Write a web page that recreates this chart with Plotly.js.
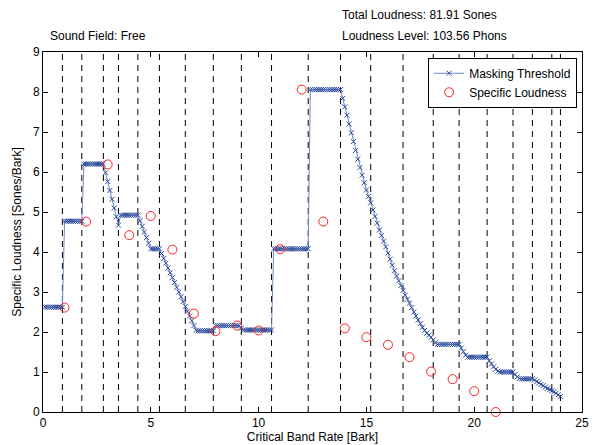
<!DOCTYPE html>
<html><head><meta charset="utf-8">
<script src="https://cdn.plot.ly/plotly-3.0.1.min.js"></script>
<style>html,body{margin:0;padding:0;background:#fff}#chart{width:593px;height:445px}</style>
</head><body><div id="chart"></div>
<script>
// Critical band edges (dashed lines), Bark
const bandEdges = [0.9, 1.8, 2.8, 3.5, 4.4, 5.4, 6.6, 7.9, 9.2, 10.6, 12.3, 13.8, 15.2, 16.7, 18.1, 19.3, 20.6, 21.8, 22.7, 23.6, 24.0];

// Masking threshold sampled every 0.1 Bark starting at 0.1 Bark
const thresholdStart = 0.1;
const thresholdStep = 0.1;
const maskingThreshold = [
  2.62, 2.62, 2.62, 2.62, 2.62, 2.62, 2.62, 2.62, 2.62,
  4.77, 4.77, 4.77, 4.77, 4.77, 4.77, 4.77, 4.77, 4.77,
  6.2, 6.2, 6.2, 6.2, 6.2, 6.2, 6.2, 6.2, 6.2, 6.2,
  5.98, 5.76, 5.54, 5.32, 5.1, 4.88, 4.67,
  4.92, 4.92, 4.92, 4.92, 4.92, 4.92, 4.92, 4.92, 4.92,
  4.78, 4.64, 4.5, 4.36, 4.22, 4.08,
  4.08, 4.08, 4.08, 4.08,
  3.96, 3.84, 3.72, 3.6, 3.48, 3.36, 3.24, 3.12, 3.0, 2.88, 2.76, 2.64, 2.52, 2.4, 2.28, 2.16, 2.04,
  2.03, 2.03, 2.03, 2.03, 2.03, 2.03, 2.03, 2.03,
  2.16, 2.16, 2.16, 2.16, 2.16, 2.16, 2.16, 2.16, 2.16, 2.16, 2.16, 2.16,
  2.1,
  2.05, 2.05, 2.05, 2.05, 2.05, 2.05, 2.05, 2.05, 2.05, 2.05, 2.05, 2.05, 2.05, 2.05,
  4.08, 4.08, 4.08, 4.08, 4.08, 4.08, 4.08, 4.08, 4.08, 4.08, 4.08, 4.08, 4.08, 4.08, 4.08, 4.08, 4.08,
  8.06, 8.06, 8.06, 8.06, 8.06, 8.06, 8.06, 8.06, 8.06, 8.06, 8.06, 8.06, 8.06, 8.06, 8.06,
  7.84, 7.63, 7.42, 7.2, 6.98, 6.76, 6.54, 6.32, 6.11, 5.92, 5.73,
  5.55, 5.39, 5.23, 5.05, 4.89, 4.72, 4.55, 4.41, 4.27, 4.13,
  3.97, 3.82, 3.67, 3.53, 3.4, 3.28, 3.16, 3.04, 2.92, 2.82,
  2.72, 2.61, 2.5, 2.4, 2.3, 2.21, 2.12, 2.04, 1.97, 1.92,
  1.87, 1.8, 1.73,
  1.69, 1.69, 1.69, 1.69, 1.69, 1.69, 1.69, 1.69, 1.69, 1.69, 1.69,
  1.6, 1.51, 1.42,
  1.37, 1.37, 1.37, 1.37, 1.37, 1.37, 1.37, 1.37, 1.37, 1.37,
  1.28, 1.2, 1.13, 1.07, 1.02,
  1.0, 1.0, 1.0, 1.0, 1.0, 1.0, 1.0,
  0.94, 0.88, 0.84,
  0.83, 0.83, 0.83, 0.83, 0.83, 0.83,
  0.8, 0.76, 0.73, 0.69, 0.66, 0.62, 0.59, 0.56, 0.53, 0.51, 0.47, 0.43, 0.39
];

// Specific loudness per band (Bark 1..21)
const loudnessBark = [1, 2, 3, 4, 5, 6, 7, 8, 9, 10, 11, 12, 13, 14, 15, 16, 17, 18, 19, 20, 21];
const specificLoudness = [2.61, 4.76, 6.19, 4.42, 4.90, 4.06, 2.46, 2.02, 2.16, 2.04, 4.07, 8.06, 4.76, 2.09, 1.87, 1.68, 1.37, 1.01, 0.82, 0.52, 0.0];

const xTicks = [0, 5, 10, 15, 20, 25];
const yTicks = [0, 1, 2, 3, 4, 5, 6, 7, 8, 9];

const infoTexts = ['Total Loudness: 81.91 Sones', 'Loudness Level: 103.56 Phons', 'Sound Field: Free'];

const traces = [
  {
    name: 'Masking Threshold',
    type: 'scatter', mode: 'lines+markers',
    x0: thresholdStart, dx: thresholdStep, y: maskingThreshold,
    line: {color: '#6f88c9', width: 1},
    marker: {symbol: 'x-thin-open', size: 5, color: '#2a4a9c', line: {color: '#2a4a9c', width: 1}},
    cliponaxis: false
  },
  {
    name: 'Specific Loudness',
    type: 'scatter', mode: 'markers',
    x: loudnessBark, y: specificLoudness,
    marker: {symbol: 'circle-open', size: 9, color: '#ff2020', line: {color: '#ff2020', width: 1}},
    cliponaxis: false
  }
];

const shapes = bandEdges.map(b => ({
  type: 'line', xref: 'x', yref: 'y', x0: b, x1: b, y0: 0, y1: 9,
  line: {color: '#000', width: 1, dash: '6px,5px'}, layer: 'below'
}));

const font = {family: '"Liberation Sans", Arial, sans-serif', size: 12, color: '#000'};

const layout = {
  width: 593, height: 445,
  margin: {l: 43, r: 11, t: 52, b: 33},
  paper_bgcolor: '#fff', plot_bgcolor: '#fff',
  font: font,
  showlegend: true,
  xaxis: {
    range: [0, 25], tickvals: xTicks, ticktext: xTicks.map(String),
    ticks: 'inside', ticklen: 5, tickcolor: '#000', mirror: 'ticks',
    showline: true, linecolor: '#000', linewidth: 1,
    showgrid: false, zeroline: false,
    title: {text: 'Critical Band Rate [Bark]', font: font, standoff: 3},
    automargin: false
  },
  yaxis: {
    range: [0, 9], tickvals: yTicks, ticktext: yTicks.map(String),
    ticks: 'inside', ticklen: 5, tickcolor: '#000', mirror: 'ticks',
    showline: true, linecolor: '#000', linewidth: 1,
    showgrid: false, zeroline: false,
    title: {text: 'Specific Loudness [Sones/Bark]', font: font, standoff: 8},
    automargin: false
  },
  legend: {
    x: 0.991, xanchor: 'right', y: 0.984, yanchor: 'top',
    bgcolor: '#fff', bordercolor: '#000', borderwidth: 1,
    font: font, tracegroupgap: 0, itemwidth: 30
  },
  shapes: shapes,
  annotations: [
    {text: infoTexts[0], x: 0.551, y: 1.103, xref: 'paper', yref: 'paper', xanchor: 'left', yanchor: 'middle', showarrow: false, font: font},
    {text: infoTexts[1], x: 0.551, y: 1.045, xref: 'paper', yref: 'paper', xanchor: 'left', yanchor: 'middle', showarrow: false, font: font},
    {text: infoTexts[2], x: 0.0093, y: 1.045, xref: 'paper', yref: 'paper', xanchor: 'left', yanchor: 'middle', showarrow: false, font: font}
  ]
};

Plotly.newPlot('chart', traces, layout, {displayModeBar: false, staticPlot: true});
</script>
</body></html>
